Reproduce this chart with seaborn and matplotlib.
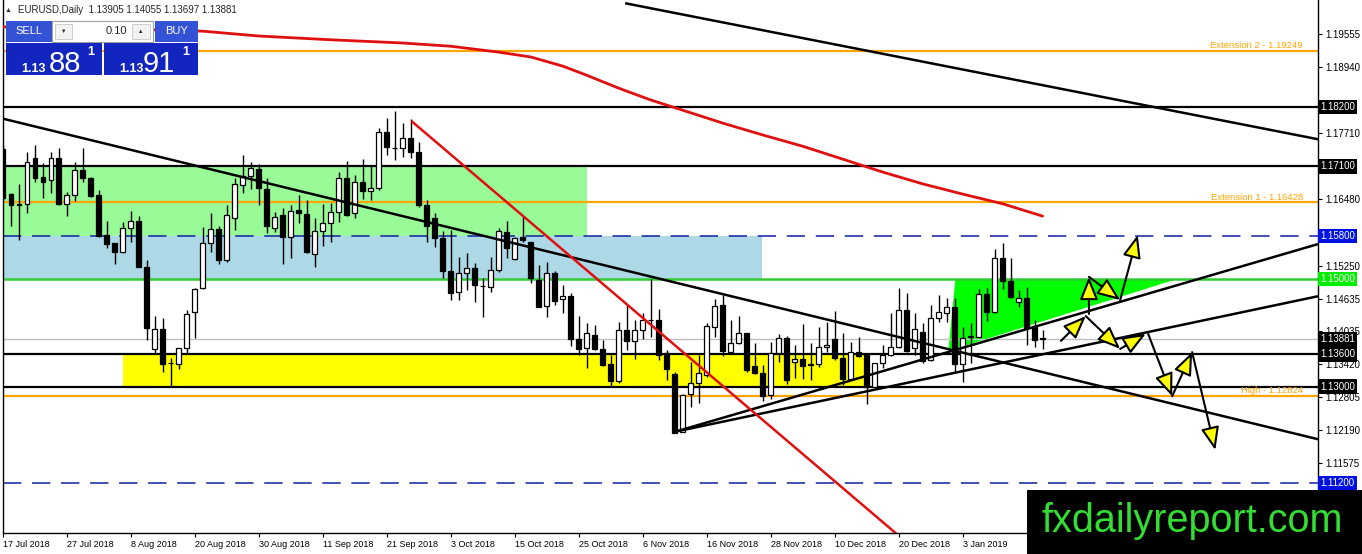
import matplotlib
matplotlib.use("Agg")
import matplotlib.pyplot as plt
import matplotlib.patches as mpatches
import matplotlib.transforms as mtransforms
import seaborn as sns
import numpy as np

# --- daily EURUSD candles (bar 0 = 17 Jul 2018) ---
opens = [1.1742, 1.1658, 1.1640, 1.1640, 1.1725, 1.1690, 1.1684, 1.1725, 1.1640, 1.1656,
         1.1703, 1.1688, 1.1656, 1.1582, 1.1567, 1.1550, 1.1595, 1.1608, 1.1522, 1.1370,
         1.1407, 1.1344, 1.1342, 1.1372, 1.1439, 1.1483, 1.1567, 1.1593, 1.1535, 1.1613,
         1.1675, 1.1692, 1.1705, 1.1667, 1.1595, 1.1619, 1.1578, 1.1628, 1.1621, 1.1547,
         1.1589, 1.1604, 1.1625, 1.1688, 1.1623, 1.1680, 1.1664, 1.1669, 1.1774, 1.1744,
         1.1744, 1.1762, 1.1736, 1.1638, 1.1613, 1.1576, 1.1515, 1.1476, 1.1511, 1.1520,
         1.1487, 1.1485, 1.1517, 1.1587, 1.1537, 1.1578, 1.1569, 1.1498, 1.1450, 1.1511,
         1.1463, 1.1468, 1.1389, 1.1372, 1.1396, 1.1370, 1.1342, 1.1310, 1.1405, 1.1385,
         1.1405, 1.1424, 1.1424, 1.1362, 1.1323, 1.1216, 1.1286, 1.1307, 1.1321, 1.1411,
         1.1452, 1.1364, 1.1381, 1.1400, 1.1338, 1.1325, 1.1284, 1.1362, 1.1390, 1.1346,
         1.1351, 1.1342, 1.1342, 1.1374, 1.1389, 1.1353, 1.1314, 1.1364, 1.1361, 1.1299,
         1.1344, 1.1359, 1.1374, 1.1442, 1.1372, 1.1402, 1.1349, 1.1428, 1.1437, 1.1448,
         1.1342, 1.1392, 1.1392, 1.1472, 1.1439, 1.1539, 1.1496, 1.1457, 1.1465, 1.1411,
         1.13905]
highs = [1.1749, 1.1660, 1.1677, 1.1736, 1.1749, 1.1716, 1.1736, 1.1744, 1.1662, 1.1718,
         1.1744, 1.1690, 1.1666, 1.1608, 1.1567, 1.1606, 1.1627, 1.1617, 1.1535, 1.1431,
         1.1428, 1.1353, 1.1372, 1.1442, 1.1483, 1.1597, 1.1623, 1.1599, 1.1638, 1.1688,
         1.1731, 1.1718, 1.1714, 1.1688, 1.1625, 1.1632, 1.1638, 1.1656, 1.1647, 1.1613,
         1.1640, 1.1641, 1.1699, 1.1720, 1.1693, 1.1723, 1.1712, 1.1781, 1.1799, 1.1813,
         1.1790, 1.1798, 1.1755, 1.1647, 1.1623, 1.1589, 1.1591, 1.1541, 1.1548, 1.1530,
         1.1502, 1.1541, 1.1595, 1.1608, 1.1578, 1.1615, 1.1569, 1.1526, 1.1532, 1.1515,
         1.1489, 1.1474, 1.1431, 1.1418, 1.1414, 1.1387, 1.1359, 1.1420, 1.1452, 1.1424,
         1.1437, 1.1500, 1.1444, 1.1368, 1.1327, 1.1286, 1.1346, 1.1359, 1.1418, 1.1463,
         1.1470, 1.1424, 1.1431, 1.1400, 1.1381, 1.1340, 1.1383, 1.1398, 1.1394, 1.1377,
         1.1416, 1.1381, 1.1411, 1.1420, 1.1440, 1.1400, 1.1383, 1.1392, 1.1362, 1.1344,
         1.1377, 1.1437, 1.1483, 1.1474, 1.1437, 1.1418, 1.1452, 1.1470, 1.1465, 1.1465,
         1.1411, 1.1418, 1.1481, 1.1483, 1.1556, 1.1567, 1.1539, 1.1480, 1.1485, 1.1424,
         1.14055]
lows = [1.1647, 1.1599, 1.1573, 1.1623, 1.1680, 1.1651, 1.1660, 1.1638, 1.1617, 1.1645,
        1.1680, 1.1653, 1.1578, 1.1558, 1.1528, 1.1548, 1.1569, 1.1522, 1.1387, 1.1361,
        1.1327, 1.1299, 1.1333, 1.1362, 1.1390, 1.1481, 1.1550, 1.1528, 1.1532, 1.1591,
        1.1660, 1.1667, 1.1638, 1.1586, 1.1587, 1.1528, 1.1539, 1.1604, 1.1548, 1.1522,
        1.1561, 1.1569, 1.1606, 1.1617, 1.1613, 1.1649, 1.1647, 1.1666, 1.1731, 1.1721,
        1.1727, 1.1725, 1.1634, 1.1569, 1.1560, 1.1502, 1.1461, 1.1461, 1.1480, 1.1457,
        1.1429, 1.1476, 1.1513, 1.1539, 1.1535, 1.1569, 1.1493, 1.1448, 1.1429, 1.1452,
        1.1437, 1.1375, 1.1359, 1.1335, 1.1368, 1.1338, 1.1299, 1.1307, 1.1368, 1.1351,
        1.1389, 1.1392, 1.1349, 1.1312, 1.1214, 1.1216, 1.1262, 1.1269, 1.1318, 1.1392,
        1.1357, 1.1362, 1.1379, 1.1327, 1.1323, 1.1273, 1.1277, 1.1346, 1.1305, 1.1316,
        1.1314, 1.1312, 1.1336, 1.1364, 1.1349, 1.1303, 1.1312, 1.1355, 1.1268, 1.1299,
        1.1335, 1.1357, 1.1372, 1.1364, 1.1359, 1.1344, 1.1348, 1.1420, 1.1420, 1.1325,
        1.1309, 1.1344, 1.1392, 1.1422, 1.1437, 1.1481, 1.1465, 1.1448, 1.1377, 1.1374,
        1.13697]
closes = [1.1651, 1.1638, 1.1638, 1.1718, 1.1688, 1.1680, 1.1725, 1.1640, 1.1656, 1.1703,
          1.1688, 1.1654, 1.1580, 1.1565, 1.1550, 1.1595, 1.1608, 1.1522, 1.1409, 1.1407,
          1.1342, 1.1343, 1.1372, 1.1435, 1.1481, 1.1567, 1.1593, 1.1535, 1.1619, 1.1677,
          1.1692, 1.1707, 1.1669, 1.1599, 1.1615, 1.1578, 1.1627, 1.1623, 1.1550, 1.1589,
          1.1604, 1.1625, 1.1688, 1.1619, 1.1680, 1.1664, 1.1669, 1.1774, 1.1746, 1.1743,
          1.1762, 1.1736, 1.1638, 1.1599, 1.1576, 1.1515, 1.1474, 1.1511, 1.1520, 1.1489,
          1.1487, 1.1517, 1.1589, 1.1558, 1.1576, 1.1573, 1.1502, 1.1448, 1.1511, 1.1459,
          1.1468, 1.1389, 1.1370, 1.1400, 1.1370, 1.1340, 1.1310, 1.1405, 1.1385, 1.1405,
          1.1424, 1.1423, 1.1359, 1.1333, 1.1214, 1.1284, 1.1307, 1.1325, 1.1413, 1.1450,
          1.1366, 1.1381, 1.1400, 1.1331, 1.1325, 1.1282, 1.1362, 1.1390, 1.1312, 1.1351,
          1.1338, 1.1340, 1.1374, 1.1377, 1.1353, 1.1314, 1.1364, 1.1357, 1.1299, 1.1344,
          1.1359, 1.1374, 1.1442, 1.1366, 1.1407, 1.1348, 1.1428, 1.1439, 1.1448, 1.1342,
          1.1390, 1.1394, 1.1472, 1.1439, 1.1539, 1.1496, 1.1467, 1.1465, 1.1409, 1.1387,
          1.13881]

date_bars = list(range(0, 121, 8))
date_labels = ["17 Jul 2018", "27 Jul 2018", "8 Aug 2018", "20 Aug 2018", "30 Aug 2018",
               "11 Sep 2018", "21 Sep 2018", "3 Oct 2018", "15 Oct 2018", "25 Oct 2018",
               "6 Nov 2018", "16 Nov 2018", "28 Nov 2018", "10 Dec 2018", "20 Dec 2018",
               "3 Jan 2019"]

# scale labels that are not covered by a level box
price_ticks = [1.19555, 1.18940, 1.17710, 1.16480, 1.15250,
               1.14635, 1.14035, 1.13420, 1.12805, 1.12190, 1.11575]

# moving average (red curve)
ma_bars = [0, 10, 20, 25, 32, 41, 50, 56, 62, 66, 70, 73, 77, 81, 85, 90, 95, 100, 105,
           110, 115, 120, 125, 130]
ma_vals = [1.1969, 1.1967, 1.1963, 1.1961, 1.1952, 1.1945, 1.1939, 1.1933, 1.1922, 1.1913,
           1.1896, 1.1879, 1.1855, 1.1833, 1.1814, 1.1790, 1.1768, 1.1747, 1.1723, 1.1699,
           1.1677, 1.1658, 1.1640, 1.1617]

# horizontal levels
black_levels = [1.18200, 1.17100, 1.13600, 1.13000]
orange_levels = [1.19249, 1.16428, 1.12824]
orange_names = ["Extension 2 - 1.19249", "Extension 1 - 1.16428", "High - 1.12824"]
blue_levels = [1.15800, 1.11200]
green_level = 1.15000
last_price = 1.13881

# zones: start bar, end bar, low, high
zone_x0 = [0.06, 0.06, 15.06]
zone_x1 = [73.06, 94.9, 108.2]
zone_lo = [1.158, 1.150, 1.130]
zone_hi = [1.171, 1.158, 1.136]
zone_colors = ["#98fb98", "#add8e6", "#ffff00"]

# triangle (bright green)
tri_bars = [118.2, 119.1, 146.8]
tri_prices = [1.1366, 1.1500, 1.1500]

# trend lines: (bar0, price0, bar1, price1, colour)
trend_lines = [
    (0.06, 1.1798, 164.44, 1.1202, "black"),
    (77.8, 1.2013, 164.44, 1.1760, "black"),
    (84.06, 1.1216, 164.44, 1.1565, "black"),
    (84.06, 1.1216, 164.44, 1.1468, "black"),
    (51.06, 1.1794, 111.9, 1.1024, "#e01010"),
]

# projected path arrows
arrows = [
    (132.3, 1.1385, 135.4, 1.1431),
    (135.8, 1.1435, 135.8, 1.1504),
    (135.8, 1.1504, 139.7, 1.1461),
    (139.7, 1.1461, 141.9, 1.1582),
    (135.4, 1.1431, 139.7, 1.1370),
    (139.7, 1.1370, 142.9, 1.1398),
    (143.2, 1.1398, 146.2, 1.1282),
    (146.2, 1.1282, 148.7, 1.1364),
    (148.7, 1.1364, 151.6, 1.1182),
]

sns.set_style("white")
plt.rcParams["font.family"] = ["Liberation Sans", "DejaVu Sans"]

W, H = 1362, 554
fig = plt.figure(figsize=(W / 100, H / 100), dpi=100)
ax = fig.add_axes([3 / W, 21 / H, 1315 / W, 533 / H])
ax.set_xlim(0.0625, 164.44)
ax.set_ylim(1.10276, 1.2019)

for x0, x1, lo, hi, col in zip(zone_x0, zone_x1, zone_lo, zone_hi, zone_colors):
    ax.add_patch(mpatches.Rectangle((x0, lo), x1 - x0, hi - lo, fc=col, ec="none", zorder=0.5))
ax.fill(tri_bars, tri_prices, color="#00ff00", lw=0, zorder=0.6)

for lvl in black_levels:
    ax.axhline(lvl, color="black", lw=1.6, zorder=1)
for lvl in orange_levels:
    ax.axhline(lvl, color="#ffa500", lw=1.6, zorder=1)
for lvl in blue_levels:
    ax.axhline(lvl, color="#1020a0", lw=1.1, dashes=(12, 7), zorder=1)
ax.axhline(green_level, color="#33cc33", lw=1.8, zorder=1)
ax.axhline(last_price, color="#c0c0c0", lw=1, zorder=1)

blend = mtransforms.blended_transform_factory(ax.transAxes, ax.transData)
for lvl, name in zip(orange_levels, orange_names):
    ax.text(0.9886, lvl + 0.00012, name, transform=blend, ha="right", va="bottom",
            fontsize=6.8, color="#ffa500", zorder=2)

# candles
x = np.arange(len(opens))
o = np.array(opens)
h = np.array(highs)
l = np.array(lows)
c = np.array(closes)
bull = c >= o
ax.vlines(x, l, h, color="black", lw=1, zorder=3)
ax.bar(x[bull], (c - o)[bull], bottom=o[bull], width=0.62, color="white",
       edgecolor="black", lw=0.9, zorder=4)
ax.bar(x[~bull], (c - o)[~bull], bottom=o[~bull], width=0.62, color="black",
       edgecolor="black", lw=0.9, zorder=4)

sns.lineplot(x=ma_bars, y=ma_vals, ax=ax, color="#e01010", lw=2, zorder=5)

for b0, p0, b1, p1, col in trend_lines:
    ax.plot([b0, b1], [p0, p1], color=col, lw=1.8, zorder=5, solid_capstyle="butt")

for b0, p0, b1, p1 in arrows:
    ax.annotate("", xy=(b1, p1), xytext=(b0, p0),
                arrowprops=dict(arrowstyle="-|>,head_length=1.0,head_width=0.4",
                                mutation_scale=14, fc="#ffff00", ec="black", lw=1.5,
                                shrinkA=0, shrinkB=0), zorder=7)

# axes styling
for side in ["left", "right", "bottom"]:
    ax.spines[side].set_visible(True)
    ax.spines[side].set_color("black")
    ax.spines[side].set_linewidth(1)
ax.spines["top"].set_visible(False)
ax.yaxis.tick_right()
ax.set_yticks(price_ticks)
ax.set_yticklabels([f"{t:.5f}" for t in price_ticks], fontsize=7)
ax.set_xticks(date_bars)
ax.set_xticklabels(date_labels, fontsize=6.5, ha="left")
ax.tick_params(axis="both", length=3, width=0.8, pad=2, colors="black", direction="out")
ax.tick_params(axis="x", bottom=True)
ax.tick_params(axis="y", right=True, left=False)
ax.set_xlabel("")
ax.set_ylabel("")
ax.grid(False)

# price label boxes on the right scale
boxes = [(1.18200, "black"), (1.17100, "black"), (1.15800, "#0010e0"), (1.15000, "#00ee00"),
         (1.13881, "black"), (1.13600, "black"), (1.13000, "black"), (1.11200, "#0010e0")]
for lvl, col in boxes:
    ax.text(1.0015, lvl, f"{lvl:.5f}", transform=blend, ha="left", va="center", fontsize=7,
            color="white", zorder=10, clip_on=False,
            bbox=dict(boxstyle="square,pad=0.25", fc=col, ec="none"))


def box(x0, y0, x1, y1, fc, ec="none", lw=0):
    fig.add_artist(mpatches.Rectangle((x0 / W, 1 - y1 / H), (x1 - x0) / W, (y1 - y0) / H,
                                      transform=fig.transFigure, fc=fc, ec=ec, lw=lw, zorder=20))


def ftext(xp, yp, s, **kw):
    fig.text(xp / W, 1 - yp / H, s, zorder=21, **kw)


# header and trade panel
ftext(5, 10, "▲", fontsize=5, va="center", color="#333333")
ftext(18, 10, "EURUSD,Daily  1.13905 1.14055 1.13697 1.13881", fontsize=7, va="center")
box(6, 21, 52, 42, "#3352d6")
ftext(29, 31.5, "SELL", color="white", fontsize=8, ha="center", va="center")
box(52, 21, 153, 42, "white", ec="#a0a0a0", lw=0.8)
box(55, 24, 72, 39, "#f2f2f2", ec="#c8c8c8", lw=0.6)
ftext(63.5, 31.5, "▼", fontsize=4, ha="center", va="center")
ftext(127, 31.5, "0.10", fontsize=8, ha="right", va="center")
box(132, 24, 150, 39, "#f2f2f2", ec="#c8c8c8", lw=0.6)
ftext(141, 31.5, "▲", fontsize=4, ha="center", va="center")
box(155, 21, 198, 42, "#3352d6")
ftext(176.5, 31.5, "BUY", color="white", fontsize=8, ha="center", va="center")
box(6, 43, 102, 75, "#1226bf")
box(104, 43, 198, 75, "#1226bf")
ftext(21, 72, "1.13", color="white", fontsize=9, fontweight="bold", va="baseline")
ftext(49, 72, "88", color="white", fontsize=21, va="baseline")
ftext(87, 55, "1", color="white", fontsize=9, fontweight="bold", va="baseline")
ftext(119, 72, "1.13", color="white", fontsize=9, fontweight="bold", va="baseline")
ftext(143, 72, "91", color="white", fontsize=21, va="baseline")
ftext(182, 55, "1", color="white", fontsize=9, fontweight="bold", va="baseline")

# watermark
box(1027, 490, 1362, 554, "black")
ftext(1192, 521, "fxdailyreport.com", color="#33dd33", fontsize=28.5, ha="center", va="center")

fig.savefig("out.png", dpi=100, facecolor="white")
